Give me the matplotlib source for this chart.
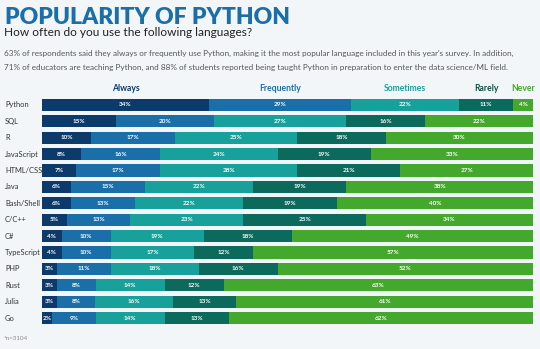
import matplotlib
matplotlib.use("Agg")
import matplotlib.pyplot as plt
import matplotlib.transforms as mtransforms
import numpy as np

# Survey answers per language, in percent
LANGUAGES = ["Python", "SQL", "R", "JavaScript", "HTML/CSS", "Java", "Bash/Shell",
             "C/C++", "C#", "TypeScript", "PHP", "Rust", "Julia", "Go"]
ALWAYS = [34, 15, 10, 8, 7, 6, 6, 5, 4, 4, 3, 3, 3, 2]
FREQUENTLY = [29, 20, 17, 16, 17, 15, 13, 13, 10, 10, 11, 8, 8, 9]
SOMETIMES = [22, 27, 25, 24, 28, 22, 22, 23, 19, 17, 18, 14, 16, 14]
RARELY = [11, 16, 18, 19, 21, 19, 19, 25, 18, 12, 16, 12, 13, 13]
NEVER = [4, 22, 30, 33, 27, 38, 40, 34, 49, 57, 52, 63, 61, 62]

SERIES = ["Always", "Frequently", "Sometimes", "Rarely", "Never"]
COLORS = ["#0c3a6a", "#1a6fa9", "#17a19a", "#0b6a5c", "#43a82b"]
HEAD_COLORS = ["#0c3a6a", "#1a6fa9", "#17a19a", "#0c4f47", "#43a82b"]
BG = "#f3f6f9"

FONT = ["Lato", "DejaVu Sans"]
plt.rcParams["font.family"] = FONT

fig = plt.figure(figsize=(5.4, 3.49), dpi=100, facecolor=BG)

fig.text(5 / 540, 1 - 17 / 349, "POPULARITY OF PYTHON", fontsize=16.5,
         fontweight="heavy", color="#1a6fa9", va="center", ha="left")
fig.text(4 / 540, 1 - 32 / 349, "How often do you use the following languages?",
         fontsize=8.6, color="#222222", va="center", ha="left")
fig.text(4 / 540, 1 - 53 / 349,
         "63% of respondents said they always or frequently use Python, making it the most "
         "popular language included in this year's survey. In addition,",
         fontsize=5.9, color="#555555", va="center", ha="left")
fig.text(4 / 540, 1 - 67 / 349,
         "71% of educators are teaching Python, and 88% of students reported being taught "
         "Python in preparation to enter the data science/ML field.",
         fontsize=5.9, color="#555555", va="center", ha="left")
fig.text(4 / 540, 1 - 339 / 349, "*n=3104", fontsize=4.5, color="#888888",
         va="center", ha="left")

ax = fig.add_axes([42 / 540, 1 - 326.2 / 349, 491 / 540, 229.4 / 349])
ax.set_facecolor(BG)

data = np.array([ALWAYS, FREQUENTLY, SOMETIMES, RARELY, NEVER], dtype=float)
totals = data.sum(axis=0)
y = np.arange(len(LANGUAGES))
left = np.zeros(len(LANGUAGES))
for k, (name, color) in enumerate(zip(SERIES, COLORS)):
    vals = data[k]
    width = vals / totals * 100
    ax.barh(y, width, left=left, height=0.74, color=color, edgecolor="none")
    for yi, (l, w, v) in enumerate(zip(left, width, vals)):
        ax.text(l + w / 2, yi, f"{int(v)}%", ha="center", va="center",
                fontsize=4.6, fontweight="bold", color="white")
    # series header centred over the first row's segment
    ax.text(left[0] + width[0] / 2, -1.0, name, ha="center", va="center",
            fontsize=6.2, fontweight="bold", color=HEAD_COLORS[k])
    left += width

# language names, left-aligned near the figure edge
label_tr = mtransforms.blended_transform_factory(fig.transFigure, ax.transData)
for yi, lang in zip(y, LANGUAGES):
    ax.text(5 / 540, yi, lang, transform=label_tr, ha="left", va="center",
            fontsize=5.4, color="#333333")

ax.set_xlim(0, 100)
ax.set_ylim(len(LANGUAGES) - 0.5, -0.5)
ax.set_xticks([])
ax.set_yticks([])
for s in ax.spines.values():
    s.set_visible(False)

fig.savefig("out.png", dpi=100, facecolor=BG)
